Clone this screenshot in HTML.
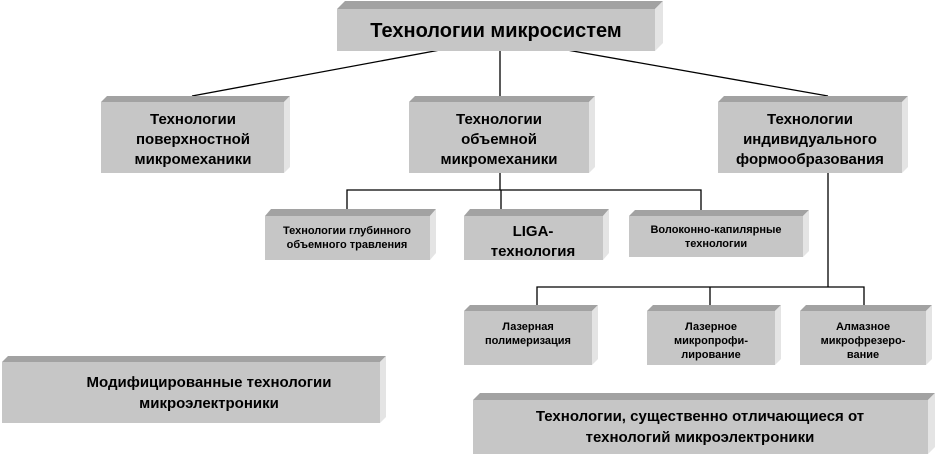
<!DOCTYPE html>
<html><head><meta charset="utf-8"><style>
html,body{margin:0;padding:0;background:#fff;width:936px;height:454px;overflow:hidden}
text{font-family:"Liberation Sans",Arial,sans-serif;font-weight:bold;fill:#000;text-anchor:middle}
.f{fill:#c6c6c6}.t{fill:#a2a2a2}.r{fill:#e4e4e4}
line,polyline{stroke:#000;stroke-width:1.3;fill:none}
</style></head><body>
<svg width="936" height="454" viewBox="0 0 936 454" xmlns="http://www.w3.org/2000/svg">
<line x1="440" y1="50" x2="192" y2="96"/>
<line x1="500" y1="50" x2="500" y2="96"/>
<line x1="567" y1="50" x2="828" y2="96"/>
<line x1="500" y1="173" x2="500" y2="190"/>
<polyline points="347,210 347,190 701,190 701,210"/>
<line x1="501" y1="190" x2="501" y2="210"/>
<line x1="828" y1="173" x2="828" y2="287"/>
<polyline points="537,305 537,287 864,287 864,305"/>
<line x1="710" y1="287" x2="710" y2="305"/>

<g>
<polygon class="t" points="337,9 345,1 663,1 655,9"/><polygon class="r" points="655,9 663,1 663,43 655,51"/><rect class="f" x="337" y="9" width="318" height="42"/>
<text x="496" y="37" font-size="20">Технологии микросистем</text>
</g>
<g>
<polygon class="t" points="101,102 107,96 290,96 284,102"/><polygon class="r" points="284,102 290,96 290,167 284,173"/><rect class="f" x="101" y="102" width="183" height="71"/>
<text x="193" y="124" font-size="15">Технологии</text><text x="193" y="144" font-size="15">поверхностной</text><text x="193" y="164" font-size="15">микромеханики</text>
</g>
<g>
<polygon class="t" points="409,102 415,96 595,96 589,102"/><polygon class="r" points="589,102 595,96 595,167 589,173"/><rect class="f" x="409" y="102" width="180" height="71"/>
<text x="499" y="124" font-size="15">Технологии</text><text x="499" y="144" font-size="15">объемной</text><text x="499" y="164" font-size="15">микромеханики</text>
</g>
<g>
<polygon class="t" points="718,102 724,96 908,96 902,102"/><polygon class="r" points="902,102 908,96 908,167 902,173"/><rect class="f" x="718" y="102" width="184" height="71"/>
<text x="810" y="124" font-size="15">Технологии</text><text x="810" y="144" font-size="15">индивидуального</text><text x="810" y="164" font-size="15">формообразования</text>
</g>
<g>
<polygon class="t" points="265,216 271,209 436,209 430,216"/><polygon class="r" points="430,216 436,209 436,253 430,260"/><rect class="f" x="265" y="216" width="165" height="44"/>
<text x="347" y="234" font-size="11">Технологии глубинного</text><text x="347" y="248" font-size="11">объемного травления</text>
</g>
<g>
<polygon class="t" points="464,216 470,209 609,209 603,216"/><polygon class="r" points="603,216 609,209 609,253 603,260"/><rect class="f" x="464" y="216" width="139" height="44"/>
<text x="533" y="236" font-size="15" font-weight="normal">LIGA-</text><text x="533" y="256" font-size="15">технология</text>
</g>
<g>
<polygon class="t" points="629,216 635,210 809,210 803,216"/><polygon class="r" points="803,216 809,210 809,251 803,257"/><rect class="f" x="629" y="216" width="174" height="41"/>
<text x="716" y="233" font-size="11">Волоконно-капилярные</text><text x="716" y="247" font-size="11">технологии</text>
</g>
<g>
<polygon class="t" points="464,311 470,305 598,305 592,311"/><polygon class="r" points="592,311 598,305 598,359 592,365"/><rect class="f" x="464" y="311" width="128" height="54"/>
<text x="528" y="330" font-size="11">Лазерная</text><text x="528" y="344" font-size="11">полимеризация</text>
</g>
<g>
<polygon class="t" points="647,311 653,305 781,305 775,311"/><polygon class="r" points="775,311 781,305 781,359 775,365"/><rect class="f" x="647" y="311" width="128" height="54"/>
<text x="711" y="330" font-size="11">Лазерное</text><text x="711" y="344" font-size="11">микропрофи-</text><text x="711" y="358" font-size="11">лирование</text>
</g>
<g>
<polygon class="t" points="800,311 806,305 932,305 926,311"/><polygon class="r" points="926,311 932,305 932,359 926,365"/><rect class="f" x="800" y="311" width="126" height="54"/>
<text x="863" y="330" font-size="11">Алмазное</text><text x="863" y="344" font-size="11">микрофрезеро-</text><text x="863" y="358" font-size="11">вание</text>
</g>
<g>
<polygon class="t" points="2,362 8,356 386,356 380,362"/><polygon class="r" points="380,362 386,356 386,417 380,423"/><rect class="f" x="2" y="362" width="378" height="61"/>
<text x="209" y="387" font-size="15" font-weight="normal">Модифицированные технологии</text><text x="209" y="408" font-size="15" font-weight="normal">микроэлектроники</text>
</g>
<g>
<polygon class="t" points="473,400 480,393 935,393 928,400"/><polygon class="r" points="928,400 935,393 935,447 928,454"/><rect class="f" x="473" y="400" width="455" height="54"/>
<text x="700" y="421" font-size="15" font-weight="normal">Технологии, существенно отличающиеся от</text><text x="700" y="442" font-size="15" font-weight="normal">технологий микроэлектроники</text>
</g>
</svg>
</body></html>
